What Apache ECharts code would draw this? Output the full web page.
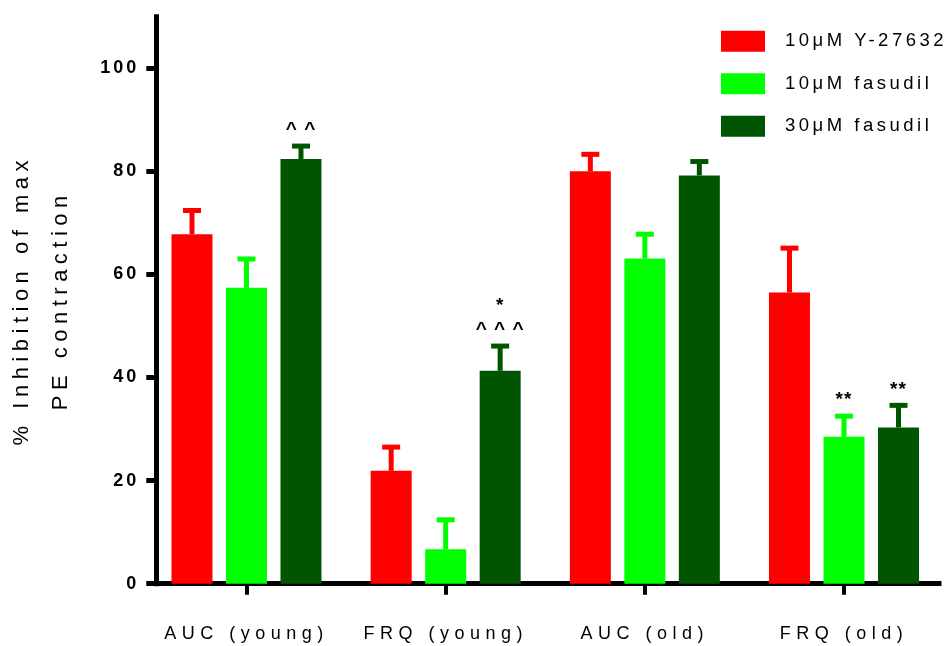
<!DOCTYPE html>
<html>
<head>
<meta charset="utf-8">
<script src="https://cdn.jsdelivr.net/npm/echarts@6/dist/echarts.min.js"></script>
<style>html,body{margin:0;padding:0;background:#fff;}#c{width:952px;height:646px;}</style>
</head>
<body>
<div id="c"></div>
<script>
// ---- data ----
const categories = ['AUC (young)', 'FRQ (young)', 'AUC (old)', 'FRQ (old)'];
const seriesNames = ['10μM Y-27632', '10μM fasudil', '30μM fasudil'];
const y27632 = [67.8, 21.9, 80.0, 56.5];
const y27632Err = [72.4, 26.5, 83.3, 65.1];
const fasudil10 = [57.4, 6.7, 63.1, 28.5];
const fasudil10Err = [63.0, 12.4, 67.8, 32.5];
const fasudil30 = [82.4, 41.3, 79.2, 30.3];
const fasudil30Err = [84.9, 46.1, 81.9, 34.6];
const y27632Anno = ['', '', '', ''];
const fasudil10Anno = ['', '', '', '**'];
const fasudil30Anno = ['^ ^', '*\n^ ^ ^', '', '**'];
const yTicks = [0, 20, 40, 60, 80, 100];
const yMax = 110;

// ---- letter spacing tweak (reference text is letter-spaced) ----
(function () {
  const P = CanvasRenderingContext2D.prototype;
  if (!('letterSpacing' in P)) return;
  function spacing(font) {
    const m = /(\d+(?:\.\d+)?)px/.exec(font || '');
    const s = m ? parseFloat(m[1]) : 12;
    const bold = /bold|700/.test(font || '');
    if (bold && s === 18) return '3px';
    if (bold) return '1px';
    if (s === 22) return '5.5px';
    if (s === 18) return '5.5px';
    if (s === 18.5) return '3.5px';
    return '0px';
  }
  ['fillText', 'strokeText', 'measureText'].forEach(function (name) {
    const orig = P[name];
    P[name] = function () {
      try { this.letterSpacing = spacing(this.font); } catch (e) {}
      return orig.apply(this, arguments);
    };
  });
})();

const colors = ['#ff0000', '#00ff00', '#005500'];
const values = [y27632, fasudil10, fasudil30];
const errs = [y27632Err, fasudil10Err, fasudil30Err];
const annos = [y27632Anno, fasudil10Anno, fasudil30Anno];
const BAR_W = 41, BAR_GAP = 13.5;
const FONT = '"Liberation Sans", Arial, sans-serif';

const chart = echarts.init(document.getElementById('c'), null, { renderer: 'canvas' });

const series = [];
values.forEach(function (v, i) {
  series.push({
    name: seriesNames[i], type: 'bar', xAxisIndex: 0, yAxisIndex: 0,
    data: v, barWidth: BAR_W, barGap: (BAR_GAP / BAR_W * 100) + '%',
    itemStyle: { color: colors[i] }, emphasis: { disabled: true }, z: 2
  });
});
values.forEach(function (v, i) {
  const off = (i - 1) * (BAR_W + BAR_GAP);
  series.push({
    name: 'err' + i, type: 'custom', xAxisIndex: 0, yAxisIndex: 0, z: 3,
    data: v.map(function (val, k) { return [k, val, errs[i][k]]; }),
    renderItem: function (params, api) {
      const k = api.value(0);
      const b = api.coord([k, api.value(1)]);
      const e = api.coord([k, api.value(2)]);
      const x = b[0] + off;
      const children = [
        { type: 'rect', shape: { x: x - 2.5, y: e[1], width: 5, height: b[1] - e[1] }, style: { fill: colors[i] } },
        { type: 'rect', shape: { x: x - 9, y: e[1] - 2.5, width: 18, height: 5 }, style: { fill: colors[i] } }
      ];
      const t = annos[i][k];
      if (t) {
        children.push({
          type: 'text',
          style: { text: t, x: x, y: e[1] - 4, align: 'center', verticalAlign: 'bottom',
            font: 'bold 19px ' + FONT, fill: '#000', lineHeight: 24 }
        });
      }
      return { type: 'group', children: children };
    }
  });
});

chart.setOption({
  animation: false,
  backgroundColor: '#fff',
  legend: {
    data: seriesNames, orient: 'vertical', left: 716, top: 25,
    itemWidth: 44, itemHeight: 21, itemGap: 20, icon: 'rect',
    textStyle: { fontSize: 18.5, color: '#000', fontFamily: FONT, padding: [0, 0, 0, 15] },
    selectedMode: false
  },
  grid: [
    { left: 146.9, right: 8.4, top: 16.7, bottom: 62.3, outerBoundsMode: 'none', containLabel: false },
    { left: 156.3, right: 13, top: 16.7, bottom: 62.3, outerBoundsMode: 'none', containLabel: false }
  ],
  xAxis: [
    {
      type: 'category', gridIndex: 0, data: categories,
      axisLine: { show: false },
      axisTick: { show: true, alignWithLabel: true, interval: 0, length: 11, lineStyle: { width: 4, color: '#000' } },
      axisLabel: { fontSize: 18, color: '#000', fontFamily: FONT, margin: 39, interval: 0, hideOverlap: false }
    },
    {
      type: 'value', gridIndex: 1, min: 0, max: 1,
      axisLine: { show: true, lineStyle: { width: 5, color: '#000', cap: 'square' } },
      axisTick: { show: false }, axisLabel: { show: false }, splitLine: { show: false }
    }
  ],
  yAxis: [
    { type: 'value', gridIndex: 0, min: 0, max: yMax, show: false, splitLine: { show: false } },
    {
      type: 'value', gridIndex: 1, min: 0, max: yMax,
      name: '% Inhibition of max\nPE contraction', nameLocation: 'middle', nameRotate: 90, nameGap: 76,
      nameTextStyle: { fontSize: 22, color: '#000', fontFamily: FONT, lineHeight: 39 },
      axisLine: { show: true, lineStyle: { width: 5, color: '#000', cap: 'square' } },
      axisTick: { show: true, length: 10, lineStyle: { width: 5, color: '#000' }, customValues: yTicks },
      axisLabel: { fontSize: 18, fontWeight: 'bold', color: '#000', fontFamily: FONT, margin: 17, customValues: yTicks },
      splitLine: { show: false }
    }
  ],
  series: series
});
</script>
</body>
</html>
